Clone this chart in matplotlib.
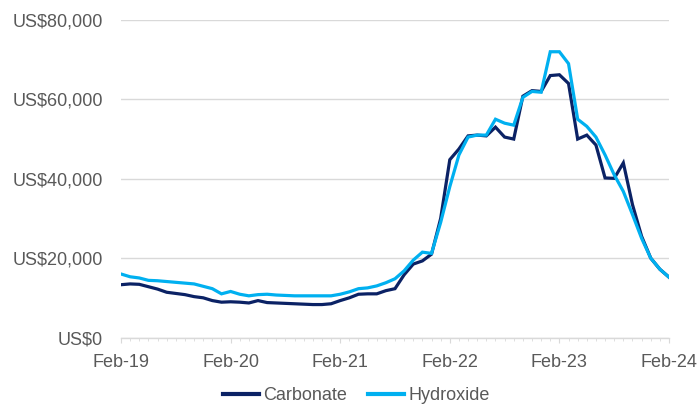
import numpy as np
import matplotlib.pyplot as plt
from matplotlib.ticker import FuncFormatter, MultipleLocator

# monthly prices, Feb-19 .. Feb-24
carbonate = [
    13300, 13500, 13400, 12800, 12200, 11400, 11100, 10800, 10300, 10000, 9300, 8900,
    9000, 8900, 8700, 9300, 8800, 8700, 8600, 8500, 8400, 8300, 8300, 8500,
    9300, 10000, 10900, 11000, 11000, 11800, 12300, 15800, 18500, 19300, 21000, 30000,
    44800, 47500, 50800, 51000, 50800, 53000, 50500, 50000, 60800, 62200, 62000, 66000,
    66200, 64000, 50000, 51000, 48500, 40200, 40100, 44000, 33500, 25500, 20000, 17200,
    15200,
]
hydroxide = [
    16000, 15300, 15000, 14400, 14300, 14100, 13900, 13700, 13500, 12900, 12300, 11000,
    11600, 10900, 10500, 10800, 10900, 10700, 10600, 10500, 10500, 10500, 10500, 10500,
    10900, 11500, 12300, 12500, 13000, 13800, 14800, 16800, 19500, 21500, 21200, 29000,
    38000, 46000, 50500, 51000, 51000, 55000, 54000, 53500, 60500, 62000, 61800, 72000,
    72000, 69000, 55000, 53200, 50500, 46000, 41000, 36800, 31000, 25000, 20000, 17200,
    15200,
]
tick_labels = ["Feb-19", "Feb-20", "Feb-21", "Feb-22", "Feb-23", "Feb-24"]

DARK = "#0B2265"
LIGHT = "#00B0F0"
TEXT = "#595959"
GRID = "#D9D9D9"

plt.rcParams["font.family"] = ["Liberation Sans", "DejaVu Sans"]

fig = plt.figure(figsize=(7, 4.08), dpi=100)
ax = fig.add_axes([121 / 700, 70.5 / 408, 548 / 700, 317.5 / 408])

months = np.arange(len(carbonate))
ax.plot(months, carbonate, color=DARK, linewidth=2.3, label="Carbonate",
        solid_joinstyle="miter")
ax.plot(months, hydroxide, color=LIGHT, linewidth=2.3, label="Hydroxide",
        solid_joinstyle="miter")

ax.set_xlim(0, len(carbonate) - 1)
ax.set_ylim(0, 80000)

ax.set_xticks(np.arange(0, len(carbonate), 12))
ax.set_xticklabels(tick_labels)
ax.xaxis.set_minor_locator(MultipleLocator(1))
ax.yaxis.set_major_locator(MultipleLocator(20000))
ax.yaxis.set_major_formatter(FuncFormatter(lambda v, p: f"US${v:,.0f}"))

ax.grid(axis="y", color=GRID, linewidth=1.0)
ax.set_axisbelow(True)
for side in ["top", "right", "left"]:
    ax.spines[side].set_visible(False)
ax.spines["bottom"].set_color(GRID)
ax.spines["bottom"].set_linewidth(1.0)

ax.tick_params(axis="y", length=0, pad=13, labelsize=13, labelcolor=TEXT)
ax.tick_params(axis="x", which="major", direction="out", length=3.5, color=GRID,
               pad=8.5, labelsize=13, labelcolor=TEXT)
ax.tick_params(axis="x", which="minor", direction="out", length=2, color=GRID)

leg = fig.legend(loc="center", bbox_to_anchor=(0.509, 0.03), ncol=2, frameon=False,
                 fontsize=13, handlelength=2.0, handletextpad=0.2, columnspacing=1.2)
for t in leg.get_texts():
    t.set_color(TEXT)
for h in leg.get_lines():
    h.set_linewidth(3)

fig.savefig("out.png", dpi=100)
